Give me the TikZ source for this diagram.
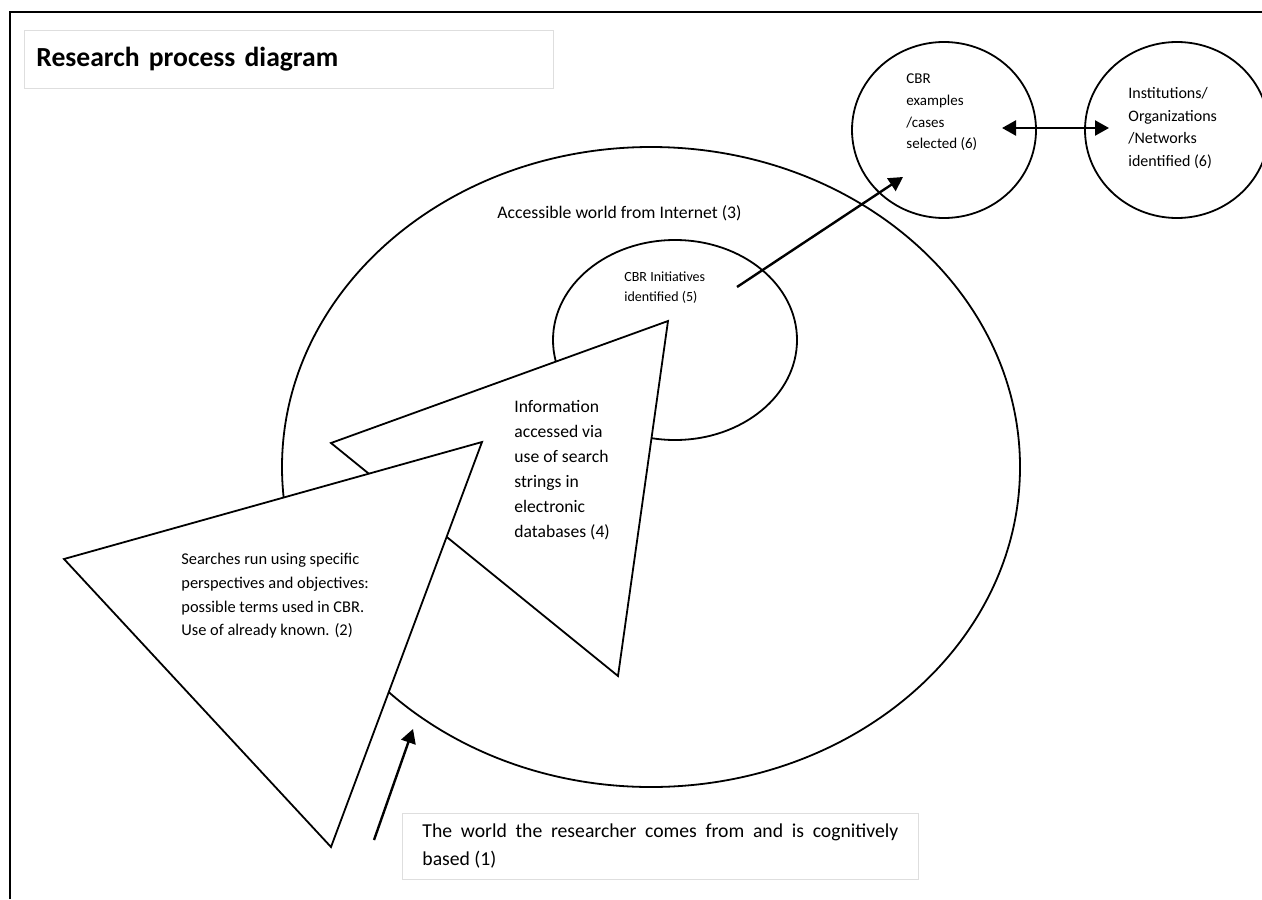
\documentclass[tikz,border=0pt]{standalone}
\usepackage{fontspec}
\setmainfont{Carlito}
\usetikzlibrary{shapes.geometric,arrows.meta}

\begin{document}
\begin{tikzpicture}[x=0.5pt,y=-0.5pt,
  outline/.style={draw, line width=0.9pt},
  ring/.style={ellipse, outline, inner sep=0pt},
  wedge/.style={outline, fill=white, line join=miter},
  txt/.style={anchor=west, align=left, inner sep=0pt},
  boxed/.style={draw=black!13, line width=0.4pt, anchor=north west},
  link/.style={line width=1.2pt, -{Triangle[length=7pt,width=7.5pt]}}]
\clip (0,0) rectangle (1262,899);
% frame
\draw[line width=1pt] (10,899) -- (10,12) -- (1262,12);
\node[boxed, minimum width=264.5pt, minimum height=29pt, text width=252.5pt, inner xsep=6pt, align=left,
  font=\fontsize{13.8}{16}\selectfont\bfseries] (title) at (24,30) {Research process diagram};
% worlds
\node[ring, minimum width=369pt, minimum height=320pt] (internet) at (651,467) {};
\node[ring, minimum width=122pt, minimum height=100pt] (initiatives) at (675,340) {};
\node[ring, minimum width=92pt, minimum height=88pt] (cases) at (944,130) {};
\node[ring, minimum width=92pt, minimum height=88pt] (networks) at (1177,130) {};
% searches
\draw[wedge] (331,443) -- (668,321) -- (618,676) -- cycle;
\draw[wedge] (64,559) -- (482,442) -- (331,847) -- cycle;
% labels
\node[txt, font=\fontsize{8.85}{10.6}\selectfont] (accessLbl) at (497,213) {Accessible world from Internet (3)};
\node[txt, font=\fontsize{7}{10}\selectfont] (initLbl) at (624,287.5) {CBR Initiatives\\identified (5)};
\node[txt, font=\fontsize{8.8}{12.5}\selectfont] (infoLbl) at (514,470.5) {Information\\accessed via\\use of search\\strings in\\electronic\\databases (4)};
\node[txt, font=\fontsize{8.2}{11.85}\selectfont] (searchLbl) at (181,596) {Searches run using specific\\perspectives and objectives:\\possible terms used in CBR.\\Use of already known. (2)};
\node[txt, font=\fontsize{7.5}{10.8}\selectfont] (casesLbl) at (906,112.5) {CBR\\examples\\/cases\\selected (6)};
\node[txt, font=\fontsize{8}{11.3}\selectfont] (netLbl) at (1128,128) {Institutions/\\Organizations\\/Networks\\identified (6)};
\node[boxed, minimum height=33pt, text width=238pt, inner xsep=10pt, align=justify,
  font=\fontsize{9.85}{14}\selectfont] (originLbl) at (402,813) {The world the researcher comes from and is cognitively based (1)};
% arrows
\coordinate (initOut) at (737,287);
\coordinate (casesIn) at (903,177);
\coordinate (casesOut) at (1002,128);
\coordinate (netIn) at (1109,128);
\coordinate (home) at (374,840);
\coordinate (entry) at (413,729);
\draw[link] (initOut) -- (casesIn);
\draw[link, {Triangle[length=7pt,width=7.5pt]}-{Triangle[length=7pt,width=7.5pt]}] (casesOut) -- (netIn);
\draw[link] (home) -- (entry);
\end{tikzpicture}
\end{document}
